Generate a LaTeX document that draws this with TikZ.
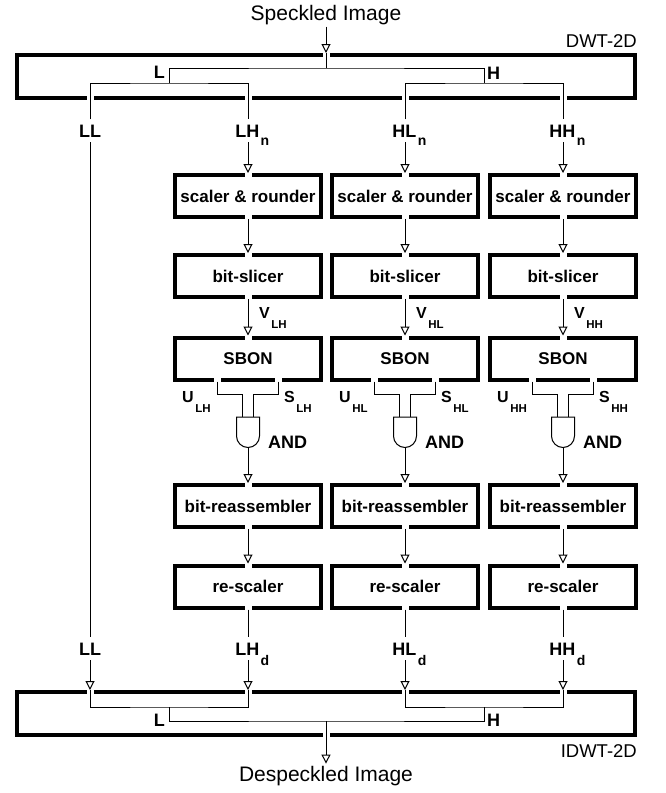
\documentclass[tikz,border=0pt]{standalone}
\usepackage{fontspec}
\setmainfont{Liberation Sans}
\usetikzlibrary{arrows.meta}

% lowered index: shift, size, text
\newcommand\lo[3]{\kern1.5pt\rlap{\smash{\raisebox{#1}{\fontsize{#2}{#2}\selectfont #3}}}}

\tikzset{
  blk/.style={draw,line width=4pt,minimum width=146pt,minimum height=42pt,inner sep=0pt,
    font=\fontsize{17}{20}\selectfont\bfseries},
  wide/.style={draw,line width=4pt,minimum width=618pt,minimum height=43pt,inner sep=0pt},
  gapmark/.style={fill=white,minimum width=7pt,minimum height=10pt,inner sep=0pt},
  wire/.style={line width=1pt},
  flow/.style={wire,-{Triangle[open,fill=white,length=9pt,width=9pt]}},
  sig/.style={inner xsep=2pt,inner ysep=5pt,anchor=base,font=\fontsize{18}{20}\selectfont\bfseries},
  subtag/.style={inner sep=0pt,anchor=base west,font=\fontsize{16}{18}\selectfont\bfseries},
  imgtxt/.style={inner sep=2pt,anchor=base,font=\fontsize{21}{24}\selectfont},
  stagename/.style={inner sep=0pt,anchor=base east,font=\fontsize{18.5}{20}\selectfont},
  pics/andgate/.style={code={
    \draw[wire] (-11.5,0) -- (-11.5,19) arc[start angle=180,end angle=0,radius=11.5] -- (11.5,0) -- cycle;
    \coordinate (-a) at (-6,0);
    \coordinate (-b) at (5.5,0);
    \coordinate (-y) at (0,30.5);
  }}
}

\begin{document}
\begin{tikzpicture}[x=1pt,y=-1pt]
\useasboundingbox (0,0) rectangle (666,793);

% forward transform
\node[imgtxt] (inimg) at (326,20) {Speckled Image};
\node[wide] (dwt) at (326,76.5) {};
\node[stagename] (dwtname) at (637,47) {DWT-2D};
\coordinate (dsplit) at (326,68);
\coordinate (dlo) at (169,83);
\coordinate (dhi) at (484,83);
\node[sig,anchor=base east] (dlname) at (167,78) {L};
\node[sig,anchor=base west] (dhname) at (485,79) {H};
\node[sig] (inll) at (90,137) {LL};
\node[sig] (inlh) at (248,137) {LH\lo{-8pt}{14}{n}};
\node[sig] (inhl) at (405,137) {HL\lo{-8pt}{14}{n}};
\node[sig] (inhh) at (563,137) {HH\lo{-8pt}{14}{n}};

\node[gapmark] (gdwt) at (dwt.north) {};
\foreach \n in {inll,inlh,inhl,inhh}
  \node[gapmark] (g\n) at (\n.north |- dwt.south) {};

\draw[flow] (inimg.south) -- (dwt.north);
\draw[wire] (dwt.north) -- (dsplit);
\draw[wire] (dlo) |- (dsplit) -| (dhi);
\draw[wire] (inll.north) |- (dlo) -| (inlh.north);
\draw[wire] (inhl.north) |- (dhi) -| (inhh.north);

% inverse transform
\node[wide] (idwt) at (326,713.5) {};
\node[stagename] (idwtname) at (637,757) {IDWT-2D};
\node[imgtxt] (outimg) at (326,781) {Despeckled Image};
\coordinate (ilo) at (169,707);
\coordinate (ihi) at (484,707);
\coordinate (isplit) at (326,721);
\node[sig,anchor=base east] (ilname) at (167,726) {L};
\node[sig,anchor=base west] (ihname) at (485,726) {H};
\node[sig] (outll) at (90,655) {LL};
\node[sig] (outlh) at (248,655) {LH\lo{-10pt}{14}{d}};
\node[sig] (outhl) at (405,655) {HL\lo{-10pt}{14}{d}};
\node[sig] (outhh) at (563,655) {HH\lo{-10pt}{14}{d}};

\node[gapmark] (gidwt) at (idwt.south) {};
\foreach \n in {outll,outlh,outhl,outhh}{
  \node[gapmark] (g\n) at (\n.south |- idwt.north) {};
  \draw[flow] (\n.south) -- (\n.south |- idwt.north);
}
\draw[wire] (outll.south |- idwt.north) |- (ilo) -| (outlh.south |- idwt.north);
\draw[wire] (outhl.south |- idwt.north) |- (ihi) -| (outhh.south |- idwt.north);
\draw[wire] (ilo) |- (isplit) -| (ihi);
\draw[flow] (isplit) -- (outimg.north);

% LL passes straight through
\draw[wire] (inll.south) -- (outll.north);

% detail bands
\foreach \c/\x/\s in {lh/248/LH,hl/405/HL,hh/563/HH}{
  \node[blk] (scal\c) at (\x,196) {scaler \& rounder};
  \node[blk] (slic\c) at (\x,276) {bit-slicer};
  \node[blk] (sbon\c) at (\x,358.5) {SBON};
  \node[blk] (reas\c) at (\x,506) {bit-reassembler};
  \node[blk] (resc\c) at (\x,586.5) {re-scaler};
  \pic (and\c) at (\x,417) {andgate};
  \node[subtag] (v\c) at (\x+11,318) {V\lo{-10pt}{11.5}{\s}};
  \node[subtag] (u\c) at (\x-66,402) {U\lo{-10pt}{11.5}{\s}};
  \node[subtag] (s\c) at (\x+36,402) {S\lo{-10pt}{11.5}{\s}};
  \node[subtag,font=\fontsize{18}{20}\selectfont\bfseries] (andname\c) at (\x+20,448) {AND};
  \foreach \b in {scal,slic,sbon,reas,resc}
    \node[gapmark] (gt\b\c) at (\b\c.north) {};
  \foreach \b in {scal,slic,reas,resc}
    \node[gapmark] (gb\b\c) at (\b\c.south) {};
  \node[gapmark] (gu\c) at ([xshift=-31pt]sbon\c.south) {};
  \node[gapmark] (gs\c) at ([xshift=30pt]sbon\c.south) {};
  \draw[flow] (in\c.south) -- (scal\c.north);
  \draw[flow] (scal\c.south) -- (slic\c.north);
  \draw[flow] (slic\c.south) -- (sbon\c.north);
  \draw[wire] ([xshift=-31pt]sbon\c.south) -- ++(0,13) -| (and\c-a);
  \draw[wire] ([xshift=30pt]sbon\c.south) -- ++(0,13) -| (and\c-b);
  \draw[flow] (and\c-y) -- (reas\c.north);
  \draw[flow] (reas\c.south) -- (resc\c.north);
  \draw[wire] (resc\c.south) -- (out\c.north);
}
\end{tikzpicture}
\end{document}
